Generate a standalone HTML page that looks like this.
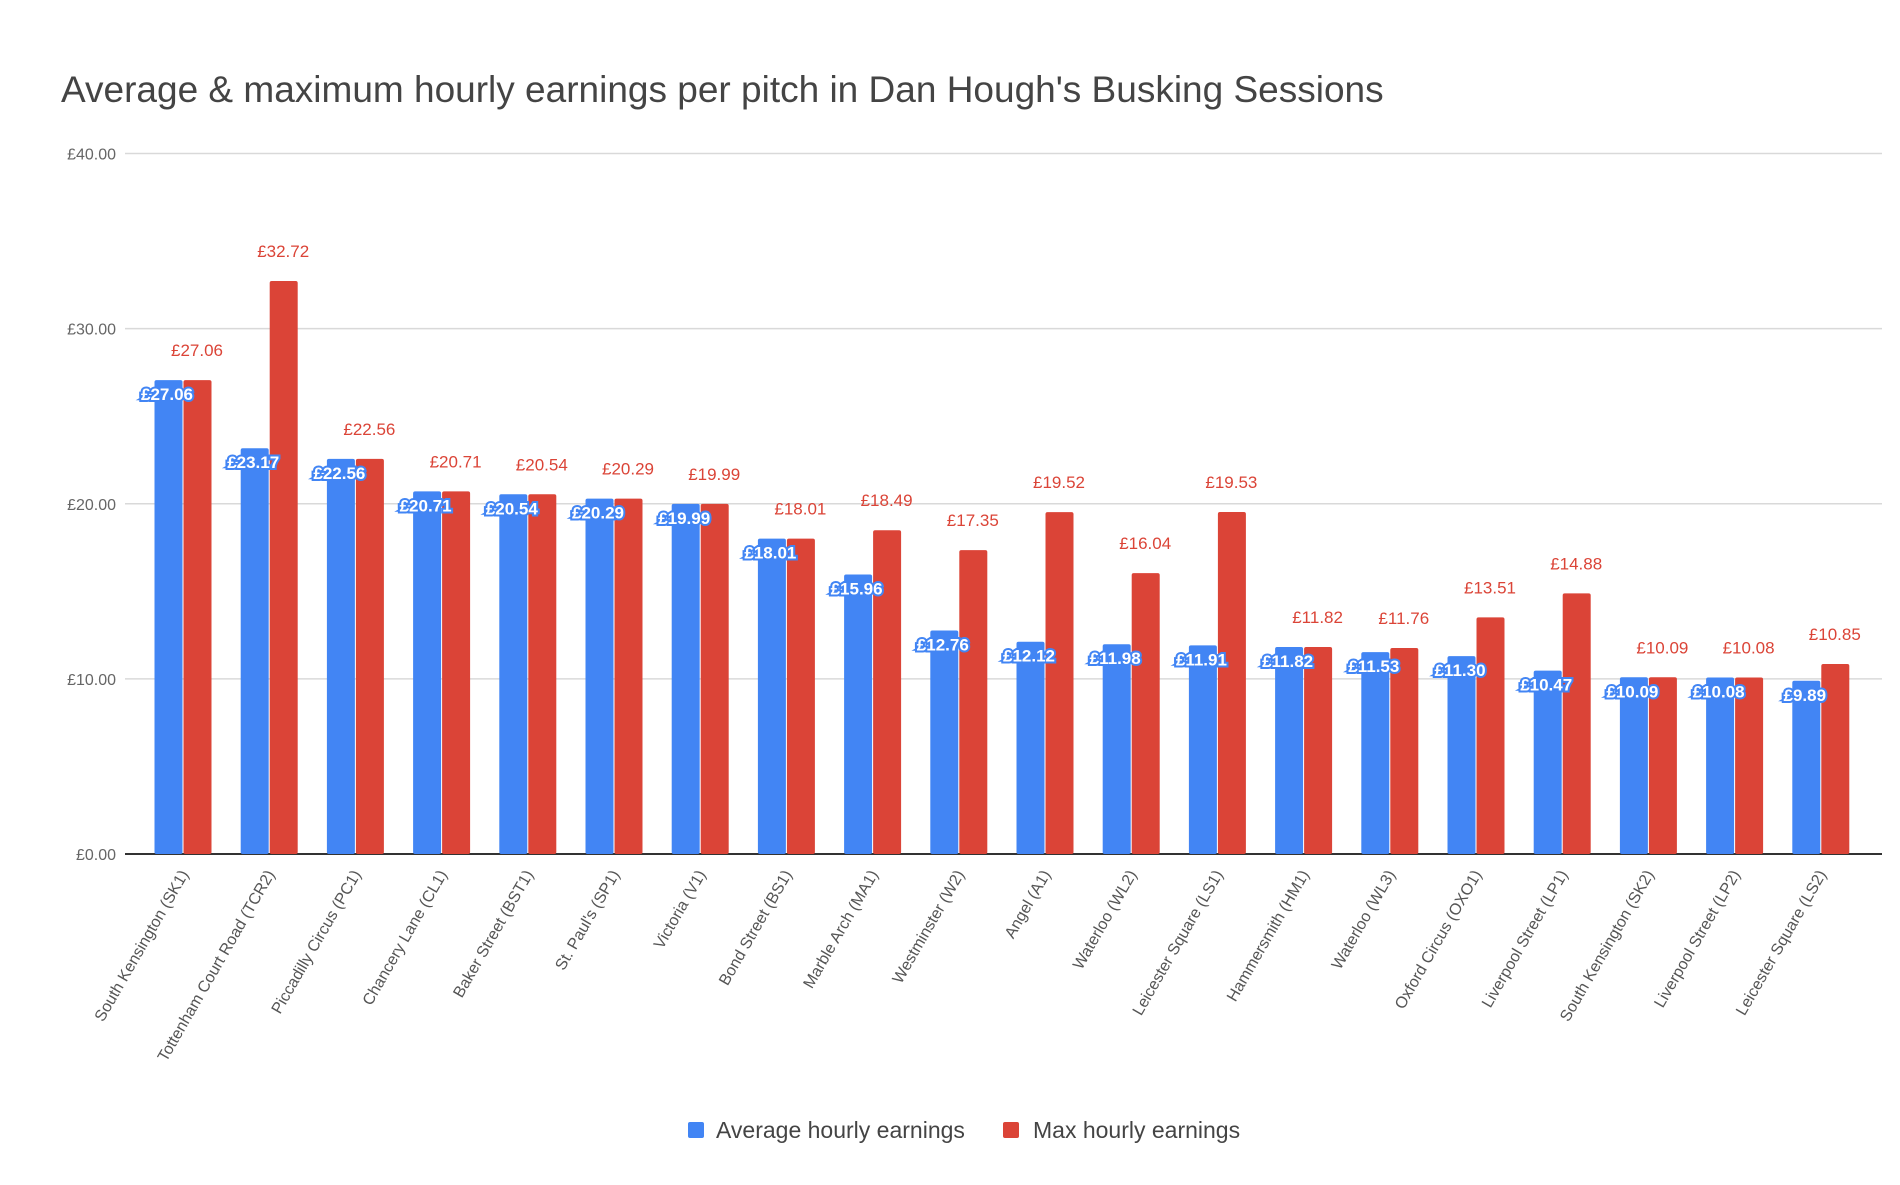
<!DOCTYPE html>
<html><head><meta charset="utf-8"><style>
html,body{margin:0;padding:0;background:#fff;}
svg text{font-family:"Liberation Sans",sans-serif;}
</style></head><body>
<svg id="chart" width="1900" height="1180" viewBox="0 0 1900 1180" xmlns="http://www.w3.org/2000/svg">
<rect width="1900" height="1180" fill="#fff"/>
<text x="61" y="102" font-size="37" fill="#444">Average &amp; maximum hourly earnings per pitch in Dan Hough's Busking Sessions</text>
<g id="grid"></g><g id="bars"></g><g id="labels"></g>
<g>
<rect x="688" y="1122" width="16" height="16" rx="2" fill="#4285f4"/>
<text x="716" y="1138" font-size="23" fill="#444">Average hourly earnings</text>
<rect x="1003" y="1122" width="16" height="16" rx="2" fill="#db4437"/>
<text x="1033" y="1138" font-size="23" fill="#444">Max hourly earnings</text>
</g>
</svg>
<script>
const categories=["South Kensington (SK1)","Tottenham Court Road (TCR2)","Piccadilly Circus (PC1)","Chancery Lane (CL1)","Baker Street (BST1)","St. Paul's (SP1)","Victoria (V1)","Bond Street (BS1)","Marble Arch (MA1)","Westminster (W2)","Angel (A1)","Waterloo (WL2)","Leicester Square (LS1)","Hammersmith (HM1)","Waterloo (WL3)","Oxford Circus (OXO1)","Liverpool Street (LP1)","South Kensington (SK2)","Liverpool Street (LP2)","Leicester Square (LS2)"];
const avgValues=[27.06,23.17,22.56,20.71,20.54,20.29,19.99,18.01,15.96,12.76,12.12,11.98,11.91,11.82,11.53,11.30,10.47,10.09,10.08,9.89];
const maxValues=[27.06,32.72,22.56,20.71,20.54,20.29,19.99,18.01,18.49,17.35,19.52,16.04,19.53,11.82,11.76,13.51,14.88,10.09,10.08,10.85];
const yTicks=[0,10,20,30,40];
const NS="http://www.w3.org/2000/svg";
const y0=854,y40=153.5,plotL=125,plotR=1882;
const y=v=>y0-(v/40)*(y0-y40);
const xc=i=>183+i*86.2;
const bw=28;
function mk(tag,attrs,parent,txt){const e=document.createElementNS(NS,tag);for(const k in attrs)e.setAttribute(k,attrs[k]);if(txt!==undefined)e.textContent=txt;parent.appendChild(e);return e;}
const grid=document.getElementById('grid'),bars=document.getElementById('bars'),labels=document.getElementById('labels');
yTicks.forEach(t=>{
  const l=mk('line',{x1:plotL,x2:plotR,y1:y(t),y2:y(t),stroke:t===0?'#333':'#d9d9d9','stroke-width':t===0?2:1.5},grid);
  
  
  const tx=mk('text',{x:116,y:y(t)+6,'text-anchor':'end','font-size':16,fill:'#666'},grid,'£'+t.toFixed(2));
  
  
});
categories.forEach((c,i)=>{
  const cx=xc(i);
  const a=mk('rect',{x:cx-bw-0.5,y:y(avgValues[i]),width:bw,height:y0-y(avgValues[i]),fill:'#4285f4',rx:2},bars);
  
  
  const m=mk('rect',{x:cx+0.5,y:y(maxValues[i]),width:bw,height:y0-y(maxValues[i]),fill:'#db4437',rx:2},bars);
  
  
  const ml=mk('text',{x:cx+bw/2,y:y(maxValues[i])-24,'text-anchor':'middle','font-size':17,fill:'#db4437'},labels,'£'+maxValues[i].toFixed(2));
  
  
  const al=mk('text',{x:cx-bw/2-2,y:y(avgValues[i])+20,'text-anchor':'middle','font-size':17,fill:'#fff',stroke:'#4285f4','stroke-width':4,'paint-order':'stroke','font-weight':'bold'},labels,'£'+avgValues[i].toFixed(2));
  
  
  const cl=mk('text',{x:cx+6,y:y0+20,'text-anchor':'end','font-size':16,fill:'#555',transform:`rotate(-60 ${cx+6} ${y0+20})`},labels,c);
  
  
});
</script>
</body></html>
